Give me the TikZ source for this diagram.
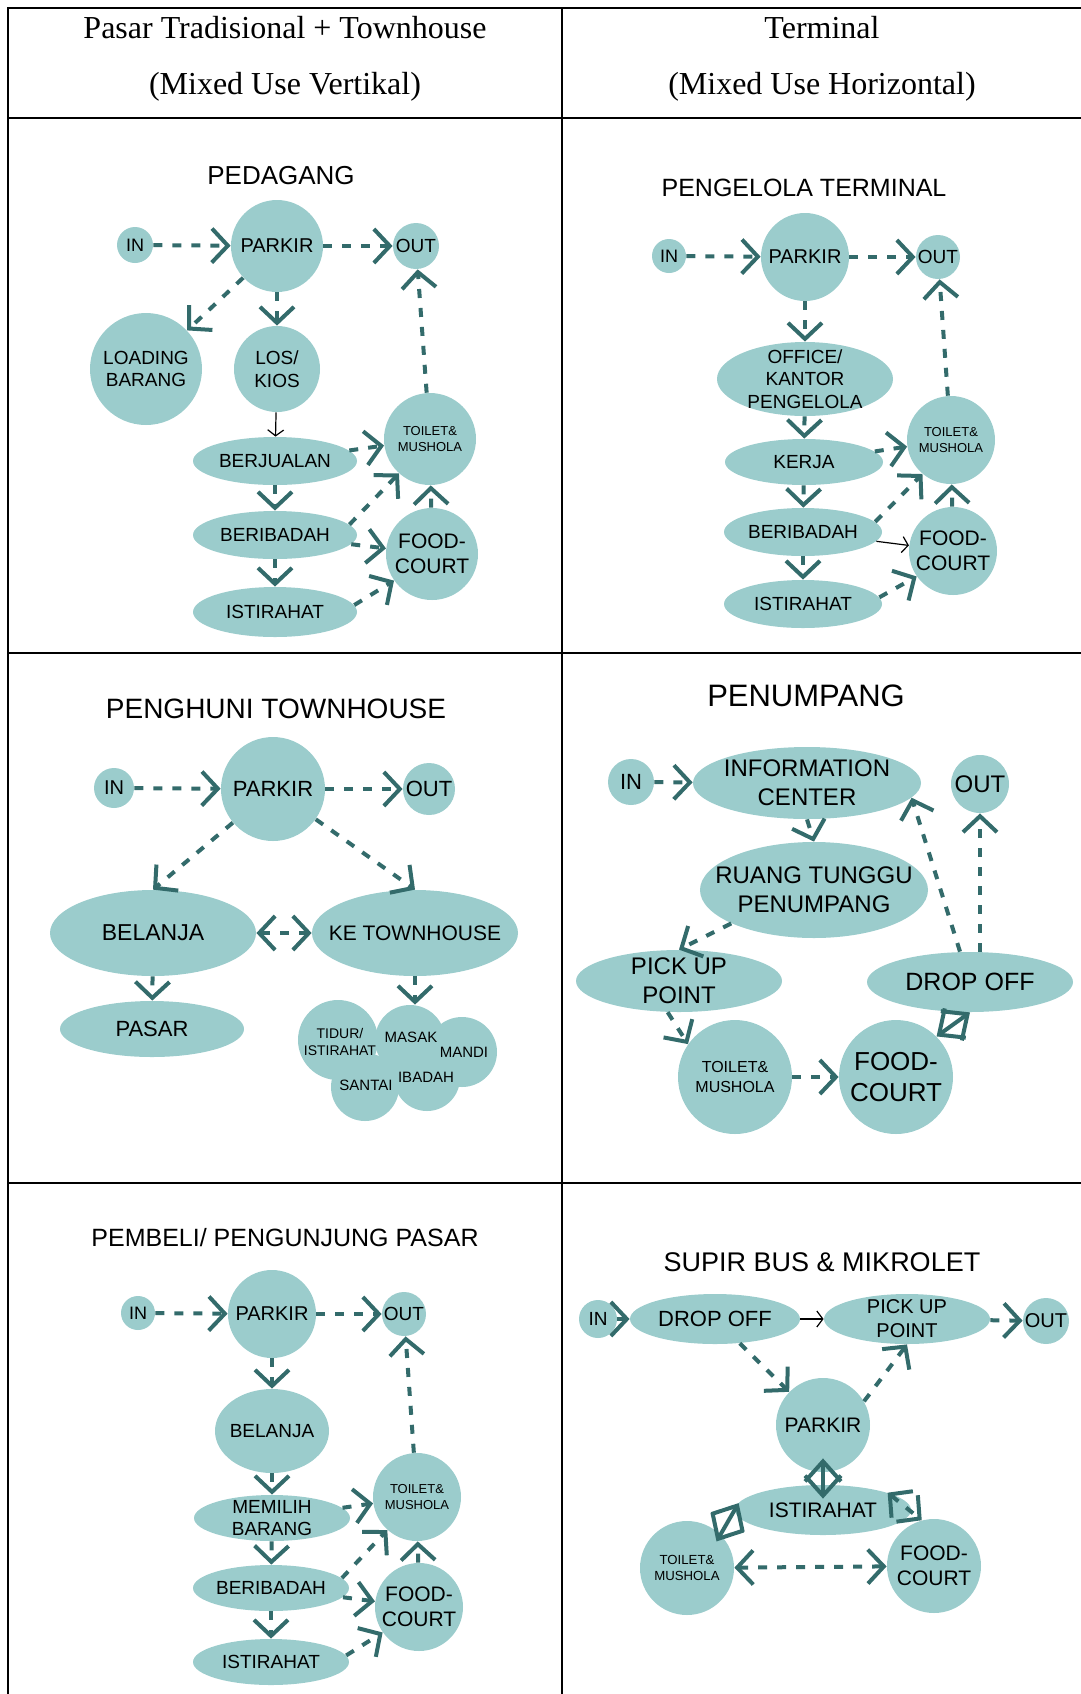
\documentclass[tikz,border=0pt]{standalone}
\usepackage{fontspec}
\setmainfont{Liberation Serif}
\newfontfamily\zonefont{Liberation Sans}
\usetikzlibrary{arrows.meta,shapes.geometric}
\definecolor{zoneFill}{HTML}{9BCCCC}
\definecolor{flowTeal}{HTML}{336B6B}

\tikzset{
  zone/.style={fill=zoneFill, inner sep=0pt, align=center},
  spot/.style={zone, circle, minimum size=#1pt},
  oval/.style 2 args={zone, ellipse, inner xsep=-20pt, inner ysep=-8pt,
    minimum width=#1pt, minimum height=#2pt},
  fs/.style={font=\zonefont\fontsize{#1}{\fpeval{1.2*#1}}\selectfont},
  heading/.style={font=\zonefont\fontsize{#1}{#1}\selectfont},
  head/.style={font=\fontsize{16}{18}\selectfont},
  flow/.style={draw=flowTeal, line width=2pt, dash pattern=on 4.5pt off 5pt,
    -{Straight Barb[length=8pt,width=17pt]}},
  twoway/.style={flow, {Straight Barb[length=8pt,width=17pt]}-{Straight Barb[length=8pt,width=17pt]}},
  meet/.style={draw=flowTeal, line width=2pt,
    {Straight Barb[length=10pt,width=18pt]}-{Straight Barb[length=10pt,width=18pt]}},
  plainflow/.style={draw=black, line width=0.6pt, -{Straight Barb[length=3pt,width=8pt]}},
}

\begin{document}
\begin{tikzpicture}[x=0.5pt, y=-0.5pt]
  \useasboundingbox (0,0) rectangle (1081,1694);
  \draw[line width=1.15pt] (8,1694) -- (8,8) -- (1081,8);
  \draw[line width=1.15pt] (562,8) -- (562,1694);
  \draw[line width=1.15pt] (8,118) -- (1081,118);
  \draw[line width=1.15pt] (8,653) -- (1081,653);
  \draw[line width=1.15pt] (8,1183) -- (1081,1183);

  \node[head] (hl1) at (285,28) {Pasar Tradisional + Townhouse};
  \node[head] (hl2) at (285,87) {(Mixed Use Vertikal)};
  \node[head] (hr1) at (822,28) {Terminal};
  \node[head] (hr2) at (822,87) {(Mixed Use Horizontal)};

  \node[heading=13] (t1) at (281,176) {PEDAGANG};
  \node[spot=18, fs=9] (in1) at (135,245) {IN};
  \node[spot=46, fs=10] (parkir1) at (277,246) {PARKIR};
  \node[spot=23, fs=9.5] (out1) at (416,246) {OUT};
  \node[spot=56, fs=9.5] (load1) at (146,369) {LOADING\\BARANG};
  \node[spot=43, fs=9.5] (los1) at (277,369) {LOS/\\KIOS};
  \node[oval={82}{24}, fs=9.5] (jual1) at (275,461) {BERJUALAN};
  \node[oval={82}{24}, fs=9.5] (ibadah1) at (275,535) {BERIBADAH};
  \node[oval={82}{25}, fs=9.5] (rest1) at (275,612) {ISTIRAHAT};
  \node[spot=46, fs=6.5] (wc1) at (430,439) {TOILET\&\\MUSHOLA};
  \node[spot=46, fs=10.5] (food1) at (432,554) {FOOD-\\COURT};
  \draw[flow] (in1) -- (parkir1);
  \draw[flow] (parkir1) -- (out1);
  \draw[flow] (parkir1) -- (load1);
  \draw[flow] (parkir1) -- (los1);
  \draw[plainflow] (los1) -- (jual1);
  \draw[flow] (jual1) -- (ibadah1);
  \draw[flow] (ibadah1) -- (rest1);
  \draw[flow] (jual1) -- (wc1);
  \draw[flow] (ibadah1.8) -- (wc1.228);
  \draw[flow] (ibadah1) -- (food1);
  \draw[flow] (rest1.5) -- (food1.215);
  \draw[flow] (food1) -- (wc1);
  \draw[flow] (wc1) -- (out1);

  \node[heading=12.5] (t2) at (804,188) {PENGELOLA TERMINAL};
  \node[spot=17, fs=9] (in2) at (669,256) {IN};
  \node[spot=44, fs=10] (parkir2) at (805,257) {PARKIR};
  \node[spot=22, fs=9.5] (out2) at (938,257) {OUT};
  \node[oval={88}{37}, fs=9.5] (office2) at (805,379) {OFFICE/\\KANTOR\\PENGELOLA};
  \node[oval={79}{23}, fs=9.5] (kerja2) at (804,462) {KERJA};
  \node[oval={79}{24}, fs=9.5] (ibadah2) at (803,532) {BERIBADAH};
  \node[oval={79}{24}, fs=9.5] (rest2) at (803,604) {ISTIRAHAT};
  \node[spot=44, fs=6.5] (wc2) at (951,440) {TOILET\&\\MUSHOLA};
  \node[spot=44, fs=10.5] (food2) at (953,551) {FOOD-\\COURT};
  \draw[flow] (in2) -- (parkir2);
  \draw[flow] (parkir2) -- (out2);
  \draw[flow] (parkir2) -- (office2);
  \draw[flow] (office2) -- (kerja2);
  \draw[flow] (kerja2) -- (ibadah2);
  \draw[flow] (ibadah2) -- (rest2);
  \draw[flow] (kerja2) -- (wc2);
  \draw[flow] (ibadah2.8) -- (wc2.230);
  \draw[plainflow] (ibadah2) -- (food2);
  \draw[flow] (rest2.5) -- (food2.215);
  \draw[flow] (food2) -- (wc2);
  \draw[flow] (wc2) -- (out2);

  \node[heading=14] (t4) at (276,709) {PENGHUNI TOWNHOUSE};
  \node[spot=20, fs=10] (in4) at (114,788) {IN};
  \node[spot=52, fs=11] (parkir4) at (273,789) {PARKIR};
  \node[spot=26, fs=11] (out4) at (429,789) {OUT};
  \node[oval={103}{43}, fs=11.5] (belanja4) at (153,933) {BELANJA};
  \node[oval={103}{43}, fs=10.5] (ke4) at (415,933) {KE TOWNHOUSE};
  \node[oval={92}{28}, fs=11] (pasar4) at (152,1029) {PASAR};
  \node[spot=40, fill=zoneFill] (tidur4c) at (338,1040) {};
  \node[spot=35, fill=zoneFill] (masak4c) at (410,1040) {};
  \node[spot=35, fill=zoneFill] (mandi4c) at (462,1052) {};
  \node[spot=34, fill=zoneFill] (santai4c) at (365,1087) {};
  \node[spot=33, fill=zoneFill] (ibadah4c) at (427,1078) {};
  \node[fs=7, align=center, inner sep=0pt] (tidur4) at (340,1042) {TIDUR/\\ISTIRAHAT};
  \node[fs=7.5, inner sep=0pt] (masak4) at (411,1037) {MASAK};
  \node[fs=7.5, inner sep=0pt] (mandi4) at (464,1052) {MANDI};
  \node[fs=7.5, inner sep=0pt] (santai4) at (366,1085) {SANTAI};
  \node[fs=7.5, inner sep=0pt] (ibadah4) at (426,1077) {IBADAH};
  \draw[flow] (in4) -- (parkir4);
  \draw[flow] (parkir4) -- (out4);
  \draw[flow] (parkir4) -- (belanja4.north);
  \draw[flow] (parkir4) -- (ke4.north);
  \draw[twoway] (belanja4) -- (ke4);
  \draw[flow] (belanja4) -- (pasar4);
  \draw[flow] (ke4.south) -- (ke4.south |- masak4c.north);

  \node[heading=15.5] (t3) at (806,696) {PENUMPANG};
  \node[spot=23, fs=11] (in3) at (631,782) {IN};
  \node[oval={114}{36}, fs=12] (info3) at (807,783) {INFORMATION\\CENTER};
  \node[spot=29, fs=12] (out3) at (980,784) {OUT};
  \node[oval={114}{48}, fs=12] (ruang3) at (814,890) {RUANG TUNGGU\\PENUMPANG};
  \node[oval={103}{31}, fs=12] (pick3) at (679,981) {PICK UP\\POINT};
  \node[oval={103}{30}, fs=12.5] (drop3) at (970,982) {DROP OFF};
  \node[spot=57, fs=8] (wc3) at (735,1077) {TOILET\&\\MUSHOLA};
  \node[spot=57, fs=13] (food3) at (896,1077) {FOOD-\\COURT};
  \draw[flow] (in3) -- (info3);
  \draw[flow] (info3.south) -- (ruang3.north);
  \draw[flow] (ruang3.202) -- (pick3.north);
  \draw[flow] (pick3.250) -- (wc3.145);
  \draw[flow] (wc3) -- (food3);
  \draw[meet] (drop3.south) -- (food3.north east);
  \draw[flow] ([xshift=-5pt]drop3.north) -- (info3.-8);
  \draw[flow] (drop3.north -| out3.south) -- (out3.south);

  \node[heading=12.5] (t5) at (285,1238) {PEMBELI/ PENGUNJUNG PASAR};
  \node[spot=17, fs=9] (in5) at (138,1313) {IN};
  \node[spot=44, fs=10] (parkir5) at (272,1314) {PARKIR};
  \node[spot=22, fs=9.5] (out5) at (404,1314) {OUT};
  \node[oval={57}{42}, fs=9.5] (belanja5) at (272,1431) {BELANJA};
  \node[oval={78}{23}, fs=9.5] (pilih5) at (272,1518) {MEMILIH\\BARANG};
  \node[oval={78}{23}, fs=9.5] (ibadah5) at (271,1588) {BERIBADAH};
  \node[oval={78}{23}, fs=9.5] (rest5) at (271,1662) {ISTIRAHAT};
  \node[spot=44, fs=6.5] (wc5) at (417,1497) {TOILET\&\\MUSHOLA};
  \node[spot=44, fs=10.5] (food5) at (419,1607) {FOOD-\\COURT};
  \draw[flow] (in5) -- (parkir5);
  \draw[flow] (parkir5) -- (out5);
  \draw[flow] (parkir5) -- (belanja5);
  \draw[flow] (belanja5) -- (pilih5);
  \draw[flow] (pilih5) -- (ibadah5);
  \draw[flow] (ibadah5) -- (rest5);
  \draw[flow] (pilih5) -- (wc5);
  \draw[flow] (ibadah5.8) -- (wc5.228);
  \draw[flow] (ibadah5) -- (food5);
  \draw[flow] (rest5.5) -- (food5.215);
  \draw[flow] (food5) -- (wc5);
  \draw[flow] (wc5) -- (out5);

  \node[heading=13.5] (t6) at (822,1262) {SUPIR BUS \& MIKROLET};
  \node[spot=19, fs=9.5] (in6) at (598,1319) {IN};
  \node[oval={85}{25}, fs=11] (drop6) at (715,1319) {DROP OFF};
  \node[oval={83}{25}, fs=10] (pick6) at (907,1319) {PICK UP\\POINT};
  \node[spot=23, fs=10] (out6) at (1046,1321) {OUT};
  \node[spot=47, fs=10.5] (parkir6) at (823,1425) {PARKIR};
  \node[oval={88}{25}, fs=10.5] (rest6) at (823,1510) {ISTIRAHAT};
  \node[spot=47, fs=6.6] (wc6) at (687,1568) {TOILET\&\\MUSHOLA};
  \node[spot=47, fs=10.5] (food6) at (934,1566) {FOOD-\\COURT};
  \draw[flow] (in6) -- (drop6);
  \draw[plainflow] (drop6) -- (pick6);
  \draw[flow] (pick6) -- (out6);
  \draw[flow] (drop6) -- (parkir6);
  \draw[flow] (parkir6.30) -- (pick6.south);
  \draw[meet, shorten <=-7pt, shorten >=-7pt] (parkir6.south) -- (rest6.north);
  \draw[meet, shorten <=-4pt, shorten >=-4pt] (rest6.west) -- (wc6.north east);
  \draw[twoway] (rest6.15) -- (food6.105);
  \draw[twoway] (wc6) -- (food6);
\end{tikzpicture}
\end{document}
